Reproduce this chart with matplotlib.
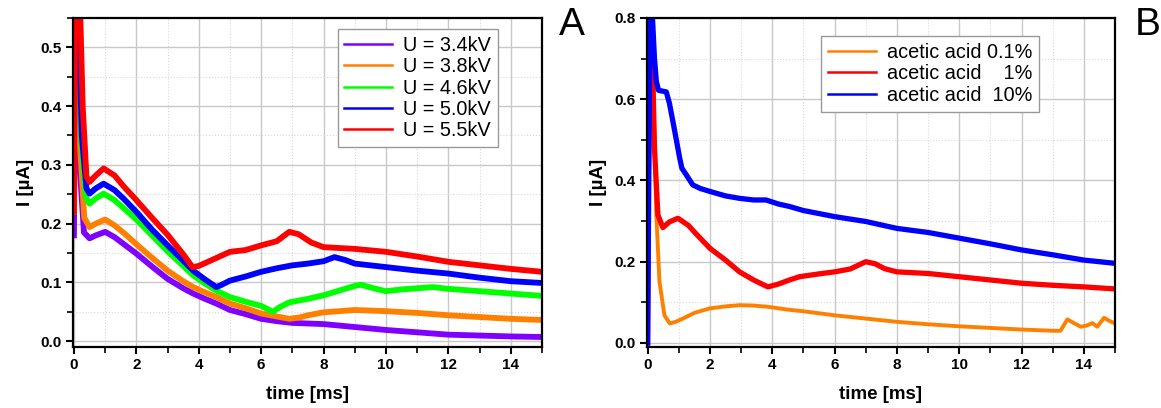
import matplotlib.pyplot as plt
from matplotlib.ticker import MultipleLocator

plt.rcParams["font.family"] = ["Liberation Sans", "DejaVu Sans"]
plt.rcParams["font.weight"] = "bold"

# ---- panel A: current vs time for several voltages
t_red_a = [0.0, 0.05, 0.18, 0.28, 0.4, 0.5, 0.7, 0.95, 1.3, 1.6, 2.0, 2.5, 3.0, 3.5, 3.8, 4.0, 4.5, 5.0,
           5.5, 6.0, 6.5, 6.9, 7.2, 7.6, 8.0, 9.0, 10.0, 11.0, 12.0, 13.0, 14.0, 15.0]
i_red_a = [0.22, 0.7, 0.6, 0.4, 0.28, 0.271, 0.282, 0.294, 0.282, 0.263, 0.24, 0.21, 0.181, 0.148, 0.126, 0.128,
           0.14, 0.152, 0.155, 0.163, 0.17, 0.186, 0.182, 0.168, 0.16, 0.157, 0.152, 0.144, 0.135, 0.129, 0.123, 0.118]

t_blue_a = [0.0, 0.05, 0.15, 0.25, 0.4, 0.5, 0.7, 0.95, 1.3, 1.6, 2.0, 2.5, 3.0, 3.5, 3.82, 4.2, 4.56, 4.7,
            5.0, 5.5, 6.0, 6.5, 7.0, 7.5, 8.0, 8.35, 8.7, 9.0, 10.0, 11.0, 12.0, 13.0, 14.0, 15.0]
i_blue_a = [0.34, 0.7, 0.55, 0.35, 0.26, 0.251, 0.26, 0.268, 0.257, 0.242, 0.22, 0.19, 0.163, 0.137, 0.12, 0.105,
            0.092, 0.095, 0.103, 0.11, 0.118, 0.124, 0.129, 0.132, 0.136, 0.143, 0.138, 0.132, 0.126, 0.12,
            0.115, 0.108, 0.102, 0.099]

t_green_a = [0.0, 0.05, 0.14, 0.22, 0.38, 0.5, 0.7, 0.95, 1.3, 1.6, 2.0, 2.5, 3.0, 3.5, 3.82, 4.2, 4.56, 5.0,
             5.5, 6.0, 6.37, 6.6, 6.9, 7.5, 8.0, 8.5, 9.0, 9.2, 9.6, 10.0, 10.5, 11.0, 11.5, 12.0, 13.0, 14.0, 15.0]
i_green_a = [0.32, 0.7, 0.55, 0.35, 0.245, 0.234, 0.243, 0.251, 0.24, 0.226, 0.207, 0.18, 0.153, 0.128, 0.112,
             0.098, 0.086, 0.075, 0.067, 0.06, 0.05, 0.058, 0.066, 0.072, 0.078, 0.086, 0.094, 0.096, 0.09,
             0.085, 0.088, 0.09, 0.092, 0.089, 0.085, 0.081, 0.077]

t_orange_a = [0.0, 0.04, 0.12, 0.2, 0.33, 0.5, 0.7, 1.0, 1.3, 1.6, 2.0, 2.5, 3.0, 3.5, 3.82, 4.2, 4.56, 5.0,
              5.5, 6.0, 6.5, 6.9, 7.2, 7.5, 8.0, 9.0, 10.0, 11.0, 12.0, 13.0, 14.0, 15.0]
i_orange_a = [0.22, 0.65, 0.55, 0.33, 0.21, 0.194, 0.2, 0.207, 0.197, 0.184, 0.165, 0.142, 0.12, 0.102, 0.092,
              0.083, 0.075, 0.064, 0.056, 0.047, 0.042, 0.038, 0.04, 0.044, 0.049, 0.053, 0.051, 0.048, 0.044,
              0.041, 0.038, 0.036]

t_purple_a = [0.0, 0.04, 0.1, 0.18, 0.32, 0.5, 0.7, 1.0, 1.3, 1.6, 2.0, 2.5, 3.0, 3.5, 3.82, 4.2, 4.56, 5.0,
              5.5, 6.0, 6.5, 7.0, 8.0, 9.0, 10.0, 11.0, 12.0, 13.0, 14.0, 15.0]
i_purple_a = [0.18, 0.62, 0.55, 0.3, 0.185, 0.175, 0.18, 0.186, 0.177, 0.165, 0.149, 0.127, 0.106, 0.09, 0.081,
              0.072, 0.064, 0.053, 0.046, 0.038, 0.034, 0.031, 0.029, 0.024, 0.019, 0.015, 0.011, 0.0095, 0.008,
              0.007]

labels_a = ["U = 3.4kV", "U = 3.8kV", "U = 4.6kV", "U = 5.0kV", "U = 5.5kV"]

# ---- panel B: different acetic acid concentrations
t_orange_b = [0.0, 0.04, 0.1, 0.16, 0.28, 0.38, 0.54, 0.71, 0.9, 1.13, 1.5, 1.99, 2.5, 2.95, 3.4, 3.86, 4.5,
              5.0, 6.0, 7.0, 8.0, 9.0, 10.0, 11.0, 12.0, 13.0, 13.25, 13.47, 13.7, 13.9, 14.1, 14.27, 14.43,
              14.65, 14.8, 15.0]
i_orange_b = [0.0, 0.36, 0.85, 0.7, 0.315, 0.151, 0.068, 0.048, 0.052, 0.06, 0.074, 0.085, 0.09, 0.093, 0.092,
              0.089, 0.082, 0.078, 0.068, 0.06, 0.052, 0.046, 0.041, 0.037, 0.033, 0.03, 0.03, 0.058, 0.048,
              0.04, 0.043, 0.049, 0.04, 0.062, 0.055, 0.048]

t_red_b = [0.0, 0.05, 0.12, 0.22, 0.33, 0.49, 0.7, 0.97, 1.3, 1.6, 2.0, 2.5, 2.95, 3.4, 3.86, 4.2, 4.55, 4.87,
           5.5, 6.0, 6.5, 7.0, 7.3, 7.6, 8.0, 9.0, 10.0, 11.0, 12.0, 13.0, 14.0, 15.0]
i_red_b = [0.0, 0.85, 0.82, 0.48, 0.315, 0.284, 0.298, 0.307, 0.29, 0.265, 0.233, 0.204, 0.175, 0.155, 0.138,
           0.145, 0.155, 0.163, 0.17, 0.175, 0.182, 0.2, 0.195, 0.183, 0.175, 0.171, 0.163, 0.155, 0.147,
           0.142, 0.138, 0.133]

t_blue_b = [0.0, 0.08, 0.15, 0.22, 0.28, 0.35, 0.6, 0.7, 0.81, 1.03, 1.1, 1.24, 1.45, 1.7, 2.0, 2.5, 2.95, 3.4,
            3.8, 4.2, 4.55, 5.0, 6.0, 7.0, 8.0, 9.0, 10.0, 11.0, 12.0, 13.0, 14.0, 15.0]
i_blue_b = [0.0, 0.85, 0.81, 0.7, 0.644, 0.622, 0.618, 0.59, 0.546, 0.455, 0.43, 0.414, 0.389, 0.38, 0.373,
            0.362, 0.356, 0.352, 0.352, 0.342, 0.336, 0.326, 0.311, 0.299, 0.282, 0.272, 0.258, 0.244, 0.229,
            0.217, 0.204, 0.196]

labels_b = ["acetic acid 0.1%", "acetic acid    1%", "acetic acid  10%"]

PURPLE = "#8000ff"
ORANGE = "#ff8000"
GREEN = "#00ff00"
BLUE = "#0000ff"
RED = "#ff0000"


def style_axes(ax, ymax, ymajor, yminor):
    ax.set_xlim(-0.03, 15)
    ax.set_ylim(-0.01, ymax)
    ax.xaxis.set_major_locator(MultipleLocator(2))
    ax.xaxis.set_minor_locator(MultipleLocator(1))
    ax.yaxis.set_major_locator(MultipleLocator(ymajor))
    ax.yaxis.set_minor_locator(MultipleLocator(yminor))
    ax.yaxis.set_major_formatter(plt.FormatStrFormatter("%.1f"))
    ax.grid(which="major", color="#c8c8c8", lw=1.0, ls="-")
    ax.grid(which="minor", color="#d8d8d8", lw=0.8, ls=":")
    ax.set_axisbelow(True)
    for sp in ax.spines.values():
        sp.set_linewidth(1.6)
    ax.tick_params(which="major", direction="out", length=5, width=1.5, labelsize=11, pad=3)
    ax.tick_params(which="minor", direction="out", length=4, width=1.2)
    ax.set_xlabel("time [ms]", fontsize=13.5, fontweight="bold", labelpad=10)
    ax.set_ylabel("I [µA]", fontsize=13.5, fontweight="bold", labelpad=5)


fig = plt.figure(figsize=(11.61, 4.08), dpi=100)

# ---------------- panel A
ax1 = fig.add_axes([0.0629, 0.1495, 0.4039, 0.8064])
ax1.plot(t_purple_a, i_purple_a, color=PURPLE, lw=4.2, label=labels_a[0])
ax1.plot(t_orange_a, i_orange_a, color=ORANGE, lw=4.2, label=labels_a[1])
ax1.plot(t_green_a, i_green_a, color=GREEN, lw=4.2, label=labels_a[2])
ax1.plot(t_blue_a, i_blue_a, color=BLUE, lw=4.2, label=labels_a[3])
ax1.plot(t_red_a, i_red_a, color=RED, lw=4.2, label=labels_a[4])
style_axes(ax1, 0.55, 0.1, 0.05)

leg1 = ax1.legend(loc="upper right", bbox_to_anchor=(0.906, 0.967), borderaxespad=0,
                  prop={"size": 14.3, "weight": "normal"},
                  fancybox=False, edgecolor="#999999", framealpha=1, handlelength=2.4, handletextpad=0.55,
                  labelspacing=0.12, borderpad=0.35)
for ln in leg1.get_lines():
    ln.set_linewidth(1.8)

# ---------------- panel B
ax2 = fig.add_axes([0.557, 0.1495, 0.4034, 0.8064])
ax2.plot(t_orange_b, i_orange_b, color=ORANGE, lw=2.8, label=labels_b[0])
ax2.plot(t_red_b, i_red_b, color=RED, lw=3.8, label=labels_b[1])
ax2.plot(t_blue_b, i_blue_b, color=BLUE, lw=3.8, label=labels_b[2])
style_axes(ax2, 0.8, 0.2, 0.1)

leg2 = ax2.legend(loc="upper right", bbox_to_anchor=(0.838, 0.945), borderaxespad=0,
                  prop={"size": 14.3, "weight": "normal"},
                  fancybox=False, edgecolor="#999999", framealpha=1, handlelength=2.4, handletextpad=0.55,
                  labelspacing=0.12, borderpad=0.35)
for ln in leg2.get_lines():
    ln.set_linewidth(1.8)

# panel letters
fig.text(572 / 1161, 1 - 25 / 408, "A", fontsize=28, fontweight="normal", ha="center", va="center")
fig.text(1148 / 1161, 1 - 25 / 408, "B", fontsize=28, fontweight="normal", ha="center", va="center")

fig.savefig("out.png", dpi=100)
